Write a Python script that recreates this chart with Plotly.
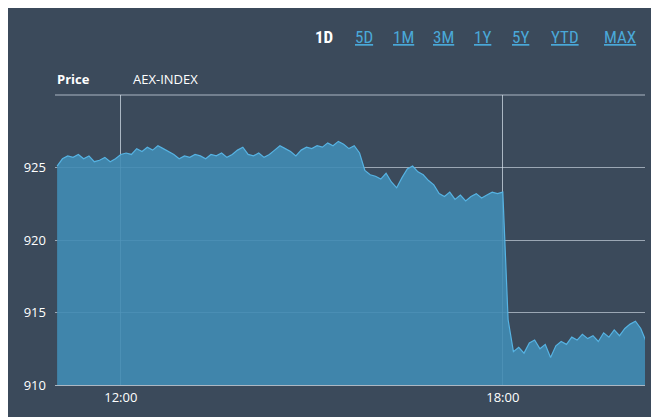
import plotly.graph_objects as go
import pandas as pd

start = "2024-01-15 11:00"
values = [925.1,925.6,925.8,925.7,925.9,925.6,925.8,925.4,925.5,925.7,925.4,925.6,925.9,
926.0,925.9,926.3,926.1,926.4,926.2,926.5,926.3,926.1,925.9,925.6,925.8,
925.7,925.9,925.8,925.6,925.9,925.8,926.0,925.7,925.9,926.2,926.4,925.9,
925.8,926.0,925.7,925.9,926.2,926.5,926.3,926.1,925.8,926.2,926.4,926.3,
926.5,926.4,926.7,926.5,926.8,926.6,926.3,926.5,926.0,924.8,924.5,924.4,
924.2,924.6,924.0,923.6,924.3,924.9,925.1,924.7,924.5,924.1,923.8,923.2,
923.0,923.3,922.8,923.1,922.7,923.0,923.2,922.9,923.1,923.3,923.2,923.3,
914.5,912.3,912.6,912.2,912.9,913.1,912.5,912.8,911.9,912.7,913.0,912.8,
913.3,913.1,913.5,913.2,913.4,913.0,913.6,913.3,913.8,913.4,913.9,914.2,
914.4,913.9,913.0]
times = pd.date_range(start, periods=len(values), freq="5min")
y_ticks = [910, 915, 920, 925]
x_ticks = ["2024-01-15 12:00", "2024-01-15 18:00"]
x_labels = ["12:00", "18:00"]
ranges = ["1D", "5D", "1M", "3M", "1Y", "5Y", "YTD", "MAX"]

bg = "#3b4a5b"
fig = go.Figure(go.Scatter(x=times, y=values, mode="lines", fill="tozeroy",
    line=dict(color="#56b3e3", width=1.2), fillcolor="rgba(65,140,180,0.9)", hoverinfo="skip"))
fig.update_layout(width=659, height=417, paper_bgcolor=bg, plot_bgcolor=bg,
    margin=dict(l=47, r=22, t=87, b=40), showlegend=False,
    font=dict(family="Open Sans", color="white", size=13))
fig.update_xaxes(range=["2024-01-15 10:58", "2024-01-15 20:14"], tickvals=x_ticks, ticktext=x_labels,
    showgrid=True, gridcolor="rgba(220,230,240,0.7)", gridwidth=1, zeroline=False,
    showline=True, linecolor="rgba(220,230,240,0.7)", ticks="", tickfont=dict(size=13))
fig.update_yaxes(range=[910, 930], tickvals=y_ticks, showgrid=True, gridcolor="rgba(220,230,240,0.6)",
    zeroline=False, ticks="", ticklabelstandoff=8, tickfont=dict(size=13))
fig.add_shape(type="line", xref="paper", yref="paper", x0=0, x1=1, y0=1, y1=1,
    line=dict(color="rgba(220,230,240,0.7)", width=1))
fig.add_annotation(text="<b>Price</b>", xref="paper", yref="paper", x=0, y=1, yanchor="bottom",
    xanchor="left", yshift=5, showarrow=False, font=dict(size=13))
fig.add_annotation(text="AEX-INDEX", x="2024-01-15 12:10", yref="paper", y=1, yanchor="bottom",
    xanchor="left", yshift=5, showarrow=False, font=dict(size=13))
xs = [324, 364, 403, 443, 482, 520, 565, 620]
for i, (r, px) in enumerate(zip(ranges, xs)):
    fig.add_annotation(text=("<b>%s</b>" % r) if i == 0 else "<u>%s</u>" % r, xref="paper", yref="paper",
        x=(px - 55) / 590, y=1 + (95 - 37) / 290, xanchor="center", yanchor="middle", showarrow=False,
        font=dict(size=17, color="white" if i == 0 else "#4aa8d8", family="Roboto Condensed, Roboto"))
fig.write_html("out.html")
